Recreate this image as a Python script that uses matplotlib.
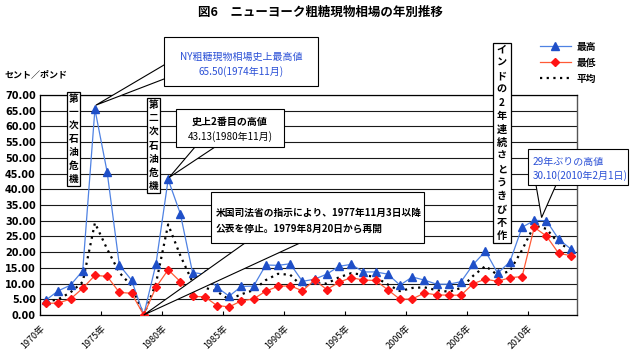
import numpy as np
import matplotlib
matplotlib.use('Agg')
import matplotlib.pyplot as plt
from matplotlib.patches import Rectangle, Polygon
from matplotlib.lines import Line2D

plt.rcParams['font.family'] = ['Noto Sans CJK JP', 'DejaVu Sans']

# ---------------- data ----------------
years = list(range(1970, 2014))
high = [4.8, 7.7, 9.5, 14.1, 65.5, 45.5, 15.9, 11.1, 0.0, 16.2,
        43.13, 32.2, 13.5, 13.0, 8.8, 6.0, 9.1, 9.2, 15.9, 15.8,
        16.3, 10.7, 11.4, 13.0, 15.5, 16.1, 13.7, 13.7, 13.0, 9.5,
        12.1, 11.1, 9.8, 9.8, 10.6, 16.1, 20.3, 13.3, 16.9, 27.9,
        30.1, 30.0, 24.1, 21.0]
low = [3.7, 3.8, 5.1, 8.5, 12.6, 12.3, 7.2, 6.9, 0.0, 8.8,
       14.4, 10.6, 5.9, 5.8, 3.0, 2.6, 4.5, 5.1, 7.6, 9.1,
       9.3, 7.7, 11.1, 8.1, 10.4, 11.9, 11.1, 11.0, 8.0, 5.0,
       5.1, 7.0, 6.4, 6.3, 6.3, 10.0, 11.4, 10.7, 11.9, 12.2,
       27.9, 25.1, 19.6, 18.9]
avg = [4.2, 5.0, 7.2, 10.5, 29.3, 21.0, 13.5, 9.3, 0.0, 10.0,
       28.8, 18.9, 10.5, 8.7, 7.5, 4.9, 6.6, 7.9, 11.1, 13.1,
       12.8, 9.0, 10.3, 10.0, 12.0, 13.3, 12.8, 12.0, 9.7, 7.6,
       8.6, 8.8, 7.9, 7.4, 8.6, 12.5, 15.6, 12.7, 14.0, 20.7,
       28.5, 27.4, 22.8, 20.9]
tick_labels = ['1970年', '1975年', '1980年', '1985年', '1990年',
               '1995年', '2000年', '2005年', '2010年']
series_names = ['最高', '最低', '平均']
yticks = [0, 5, 10, 15, 20, 25, 30, 35, 40, 45, 50, 55, 60, 65, 70]

# ---------------- figure ----------------
W, H = 639, 358
fig = plt.figure(figsize=(W / 100, H / 100), dpi=100)
L, R, T, B = 40, 577, 95, 315
ax = fig.add_axes([L / W, 1 - B / H, (R - L) / W, (B - T) / H])

x = np.arange(len(years))
ax.set_xlim(-0.5, len(years) - 0.5)
ax.set_ylim(0, 70)
ax.set_yticks(yticks)
ax.set_yticklabels([f'{v:.2f}' for v in yticks], fontsize=7, fontweight='bold',
                   family=['DejaVu Sans'])
ax.yaxis.grid(True, color='#1a1a1a', lw=0.8)
ax.set_axisbelow(True)
ax.tick_params(axis='y', length=0, pad=3)
ax.set_xticks(np.arange(-0.5, len(years), 5))
ax.set_xticklabels(tick_labels, rotation=45, ha='right', va='top',
                   rotation_mode='anchor', fontsize=6.5)
ax.tick_params(axis='x', direction='in', length=3, pad=6, width=0.8)
for s in ['left', 'bottom', 'top']:
    ax.spines[s].set_color('black')
    ax.spines[s].set_linewidth(0.9)
ax.spines['right'].set_color('#555555')
ax.spines['right'].set_linewidth(1.0)

blue_line, blue_mk = '#4f82e3', '#1f4fc8'
red_line, red_mk = '#ff5a36', '#ff1414'
ax.plot(x, avg, color='black', ls=(0, (1, 2)), lw=1.6, zorder=3)
ax.plot(x, high, color=blue_line, lw=0.9, marker='^', ms=5.5,
        mfc=blue_mk, mec=blue_mk, zorder=4)
ax.plot(x, low, color=red_line, lw=0.9, marker='D', ms=4.3,
        mfc=red_mk, mec=red_mk, zorder=5)

# ---------------- overlay in pixel coords ----------------
ov = fig.add_axes([0, 0, 1, 1], zorder=10)
ov.set_xlim(0, W)
ov.set_ylim(H, 0)
ov.axis('off')
ov.patch.set_alpha(0)


def d2p(xi, yv, dx=0, dy=0):
    p = ov.transData.inverted().transform(ax.transData.transform((xi, yv)))
    return (p[0] + dx, p[1] + dy)


def callout(box, base, tip, lw=0.8):
    x0, y0, x1, y1 = box
    ov.add_patch(Polygon([base[0], tip, base[1]], closed=True, fc='white',
                         ec='none', zorder=1))
    ov.plot([base[0][0], tip[0], base[1][0]], [base[0][1], tip[1], base[1][1]],
            color='black', lw=lw, zorder=2, solid_joinstyle='miter')
    ov.add_patch(Rectangle((x0, y0), x1 - x0, y1 - y0, fc='white',
                           ec='black', lw=lw, zorder=3))


def vbox(x0, x1, y0, y1, text, fs=7):
    ov.add_patch(Rectangle((x0, y0), x1 - x0, y1 - y0, fc='white',
                           ec='black', lw=0.9, zorder=3))
    n = len(text)
    step = (y1 - y0) / n
    for i, ch in enumerate(text):
        ov.text((x0 + x1) / 2, y0 + step * (i + 0.5), ch, ha='center',
                va='center', fontsize=fs, fontweight='bold', zorder=4)


blue_txt = '#2b50d6'

# callout 1 : all time high
callout((164, 37, 318, 86), [(164, 65), (164, 79)], d2p(4, 65.5, 1, -4))
ov.text(241, 57, 'NY粗糖現物相場史上最高値', ha='center', va='center',
        fontsize=7.2, color=blue_txt, zorder=4)
ov.text(241, 72, '65.50(1974年11月)', ha='center', va='center',
        fontsize=7.2, color=blue_txt, zorder=4)

# callout 2 : second high
callout((176, 109, 284, 147), [(195, 147), (215, 147)], d2p(10, 43.13, 1, -2))
ov.text(230, 122, '史上2番目の高値', ha='center', va='center',
        fontsize=7.2, fontweight='bold', zorder=4)
ov.text(230, 137, '43.13(1980年11月)', ha='center', va='center',
        fontsize=7.2, zorder=4)

# callout 3 : suspension
callout((211, 192, 424, 243), [(245, 243), (300, 243)], d2p(8, 0))
ov.text(216, 213, '米国司法省の指示により、1977年11月3日以降', ha='left',
        va='center', fontsize=7, fontweight='bold', zorder=4)
ov.text(216, 229, '公表を停止。1979年8月20日から再開', ha='left',
        va='center', fontsize=7, fontweight='bold', zorder=4)

# callout 4 : 29-year high
callout((528, 149, 628, 185), [(536, 185), (556, 185)], d2p(40.6, 31.0))
ov.text(533, 162, '29年ぶりの高値', ha='left', va='center',
        fontsize=7.2, color=blue_txt, zorder=4)
ov.text(533, 176, '30.10(2010年2月1日)', ha='left', va='center',
        fontsize=7.2, color=blue_txt, zorder=4)

# vertical boxes
vbox(66.7, 80, 92, 186, '第一次石油危機')
vbox(146.7, 160, 98, 193, '第二次石油危機')
vbox(493, 510.5, 43, 243, 'インドの2年連続さとうきび不作', fs=7.3)

# title and unit
ov.text(320, 12, '図6　ニューヨーク粗糖現物相場の年別推移', ha='center',
        va='center', fontsize=9, fontweight='bold')
ov.text(5, 75, 'セント／ポンド', ha='left', va='center', fontsize=6.5,
        fontweight='bold')

# legend
handles = [
    Line2D([], [], color=blue_line, lw=0.9, marker='^', ms=5.5, mfc=blue_mk, mec=blue_mk),
    Line2D([], [], color=red_line, lw=0.9, marker='D', ms=4.3, mfc=red_mk, mec=red_mk),
    Line2D([], [], color='black', ls=(0, (1, 2)), lw=1.6),
]
fig.legend(handles, series_names, loc='upper left',
           bbox_to_anchor=(536 / W, 1 - 38 / H), frameon=False,
           prop={'size': 7, 'weight': 'bold'}, handlelength=3.2,
           labelspacing=0.6, handletextpad=0.6, borderaxespad=0)

fig.savefig('out.png', dpi=100)
